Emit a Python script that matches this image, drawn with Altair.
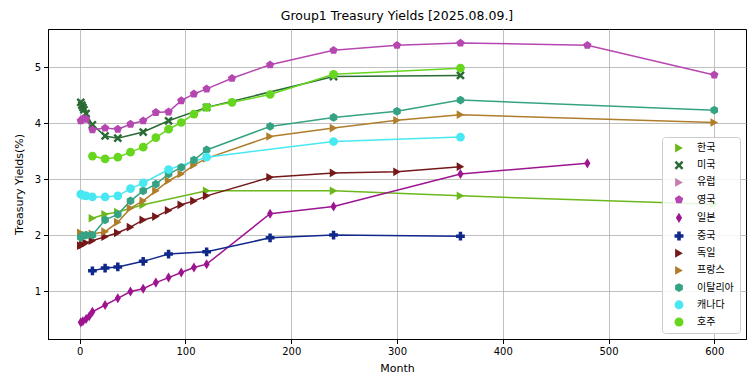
import altair as alt
import pandas as pd

countries = ["한국", "미국", "유럽", "영국", "일본", "중국", "독일", "프랑스", "이탈리아", "캐나다", "호주"]
colors = ["#6cb81c", "#2a6a34", "#c77cb0", "#b547b0", "#9e1490", "#10288a", "#74181a", "#b07d2b", "#35a383", "#48e8f2", "#66d61e"]

# custom marker paths (unit square)
X_PATH = "M-1,-0.6L-0.6,-1L0,-0.4L0.6,-1L1,-0.6L0.4,0L1,0.6L0.6,1L0,0.4L-0.6,1L-1,0.6L-0.4,0Z"
PENT = "M0,-1L0.951,-0.309L0.588,0.809L-0.588,0.809L-0.951,-0.309Z"
HEX = "M0,-1L0.866,-0.5L0.866,0.5L0,1L-0.866,0.5L-0.866,-0.5Z"
THIN_D = "M0,-1.15L0.7,0L0,1.15L-0.7,0Z"
shapes = ["triangle-right", X_PATH, "triangle-right", PENT, THIN_D, "cross", "triangle-right", "triangle-right", HEX, "circle", "circle"]

kr_m = [12, 24, 36, 60, 120, 240, 360, 600]
kr_y = [2.30, 2.37, 2.41, 2.54, 2.79, 2.79, 2.70, 2.55]

us_m = [1, 2, 3, 4, 6, 12, 24, 36, 60, 84, 120, 240, 360]
us_y = [4.37, 4.32, 4.28, 4.24, 4.17, 3.97, 3.77, 3.73, 3.84, 4.04, 4.28, 4.83, 4.85]

eu_m = []
eu_y = []

uk_m = [1, 3, 6, 12, 24, 36, 48, 60, 72, 84, 96, 108, 120, 144, 180, 240, 300, 360, 480, 600]
uk_y = [4.04, 4.08, 4.07, 3.88, 3.91, 3.89, 3.98, 4.04, 4.19, 4.20, 4.40, 4.52, 4.61, 4.80, 5.04, 5.30, 5.39, 5.43, 5.39, 4.86]

jp_m = [1, 3, 6, 9, 12, 24, 36, 48, 60, 72, 84, 96, 108, 120, 180, 240, 360, 480]
jp_y = [0.44, 0.46, 0.50, 0.55, 0.63, 0.75, 0.87, 0.99, 1.04, 1.15, 1.24, 1.33, 1.42, 1.48, 2.38, 2.51, 3.09, 3.28]

cn_m = [12, 24, 36, 60, 84, 120, 180, 240, 360]
cn_y = [1.36, 1.41, 1.43, 1.53, 1.66, 1.70, 1.95, 2.00, 1.98]

de_m = [1, 3, 6, 12, 24, 36, 48, 60, 72, 84, 96, 108, 120, 180, 240, 300, 360]
de_y = [1.81, 1.83, 1.86, 1.90, 1.97, 2.04, 2.14, 2.27, 2.33, 2.44, 2.54, 2.61, 2.70, 3.03, 3.11, 3.13, 3.22]

fr_m = [1, 12, 24, 36, 48, 60, 72, 84, 96, 108, 120, 180, 240, 300, 360, 600]
fr_y = [2.04, 2.02, 2.06, 2.23, 2.48, 2.61, 2.79, 2.97, 3.09, 3.25, 3.37, 3.76, 3.91, 4.05, 4.15, 4.01]

it_m = [1, 3, 6, 12, 24, 36, 48, 60, 72, 84, 96, 108, 120, 180, 240, 300, 360, 600]
it_y = [1.96, 1.99, 2.00, 2.00, 2.27, 2.37, 2.61, 2.79, 2.91, 3.09, 3.21, 3.34, 3.52, 3.94, 4.10, 4.21, 4.41, 4.23]

ca_m = [1, 3, 6, 12, 24, 36, 48, 60, 84, 120, 240, 360]
ca_y = [2.73, 2.71, 2.70, 2.68, 2.68, 2.70, 2.83, 2.93, 3.17, 3.39, 3.67, 3.75]

au_m = [12, 24, 36, 48, 60, 72, 84, 96, 108, 120, 144, 180, 240, 360]
au_y = [3.41, 3.36, 3.39, 3.48, 3.57, 3.74, 3.89, 4.01, 4.16, 4.28, 4.37, 4.51, 4.87, 4.98]

series = [kr_m, us_m, eu_m, uk_m, jp_m, cn_m, de_m, fr_m, it_m, ca_m, au_m]
values = [kr_y, us_y, eu_y, uk_y, jp_y, cn_y, de_y, fr_y, it_y, ca_y, au_y]

rows = []
for c, ms, ys in zip(countries, series, values):
    for m, y in zip(ms, ys):
        rows.append({"country": c, "month": m, "yield": y})
df = pd.DataFrame(rows)

FONT = "DejaVu Sans"
KFONT = "Noto Sans CJK KR"

legend = alt.Legend(
    title=None, orient="bottom-right", offset=6, fillColor="rgba(255,255,255,0.85)",
    strokeColor="#cccccc", cornerRadius=3, padding=6, labelFont=KFONT, labelFontSize=10,
    symbolSize=80, rowPadding=7.2, symbolOffset=6, labelOffset=13, symbolStrokeWidth=0,
)

color = alt.Color("country:N", scale=alt.Scale(domain=countries, range=colors), legend=legend)
shape = alt.Shape("country:N", scale=alt.Scale(domain=countries, range=shapes), legend=legend)

x = alt.X("month:Q", scale=alt.Scale(domain=[-30, 630], nice=False, zero=False),
          axis=alt.Axis(title="Month", values=[0, 100, 200, 300, 400, 500, 600]))
y = alt.Y("yield:Q", scale=alt.Scale(domain=[0.143, 5.68], nice=False, zero=False),
          axis=alt.Axis(title="Treasury Yields(%)", values=[1, 2, 3, 4, 5]))

base = alt.Chart(df)
lines = base.mark_line(strokeWidth=1.5).encode(
    x=x, y=y, color=color, detail="country:N", order="month:Q"
)
points = base.mark_point(filled=True, size=76, opacity=1).encode(
    x=x, y=y, color=color, shape=shape
)

chart = alt.layer(lines, points).properties(
    width=698, height=310,
    title=alt.TitleParams("Group1 Treasury Yields [2025.08.09.]", font=FONT, fontSize=12.5,
                          fontWeight="normal", color="black", offset=7),
    padding={"left": 5, "top": 1, "right": 1, "bottom": 2},
).configure_view(stroke="black", strokeWidth=1).configure_axis(
    labelFont=FONT, labelFontSize=10, labelColor="black", titleFont=FONT, titleFontSize=11,
    titleFontWeight="normal", titleColor="black", grid=True, gridColor="#b0b0b0", gridWidth=0.8,
    domainColor="black", tickColor="black", tickSize=4.5, labelPadding=3,
).configure_axisY(titlePadding=10).configure_axisX(titlePadding=6)

chart.save("out.html", embed_options={"renderer": "svg", "actions": False})
